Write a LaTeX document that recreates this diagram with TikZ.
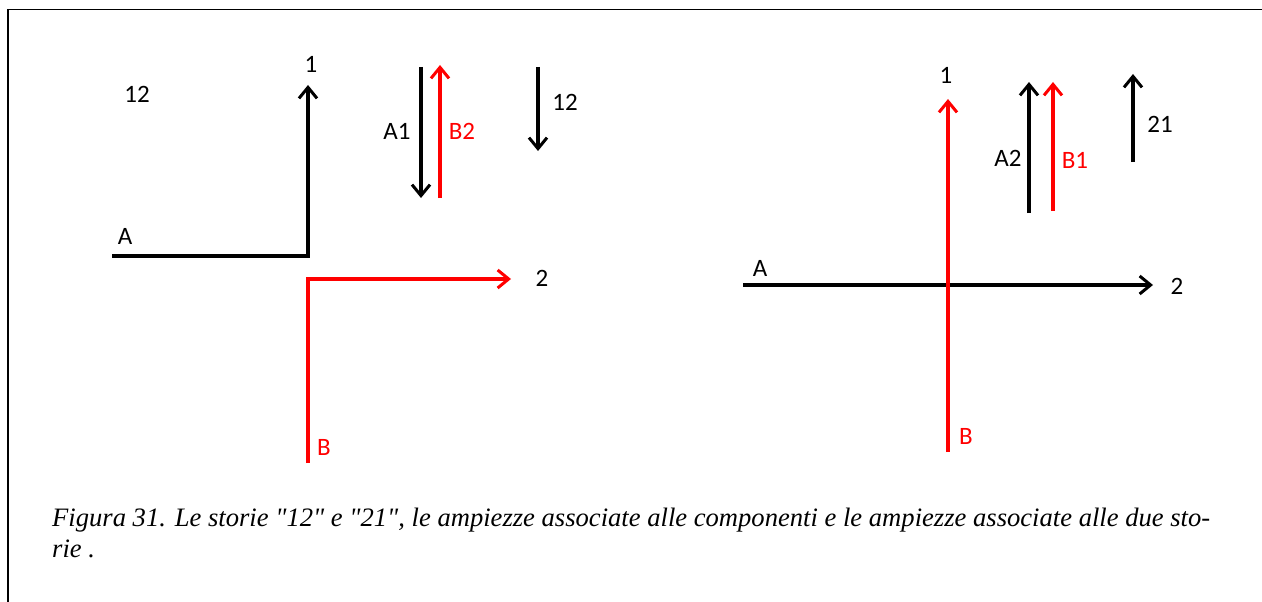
\documentclass[tikz,border=0pt]{standalone}
\usepackage{fontspec}
\setmainfont{Carlito}
\newfontfamily\capfont{Liberation Serif}
\usetikzlibrary{arrows.meta}
\definecolor{vred}{RGB}{255,0,0}
\tikzset{
  lab/.style={inner sep=0pt, font=\fontsize{25}{25}\selectfont},
  redlab/.style={lab, text=vred},
  ln/.style={line width=3.2pt, line cap=butt},
  arr/.style={ln, -{Straight Barb[length=11pt,width=18pt,line width=3pt]}},
  capline/.style={anchor=base west, inner sep=0pt, font=\capfont\itshape\fontsize{26.6}{31}\selectfont}
}
\begin{document}
\begin{tikzpicture}[x=1pt,y=-1pt]
\useasboundingbox (0,0) rectangle (1262,602);
\fill[white] (0,0) rectangle (1262,602);
% frame
\draw[line width=1.8pt] (8,602) -- (8,9.5) -- (1262,9.5);

% ---------- left diagram ----------
\coordinate (aL0) at (112,256);
\coordinate (aL1) at (308,256);
\coordinate (aL2) at (308,85);
\draw[ln, arr, line join=miter] (aL0) -- (aL1) -- (aL2);
\coordinate (bL0) at (308,463);
\coordinate (bL1) at (308,279);
\coordinate (bL2) at (511,279);
\draw[ln, arr, vred, line join=miter] (bL0) -- (bL1) -- (bL2);

\node[lab] (t12a) at (137,94) {12};
\node[lab] (one1) at (311,64) {1};
\node[lab] (Aleft) at (125,236) {A};
\node[lab] (two1) at (542,278) {2};
\node[redlab] (Bleft) at (324,447) {B};

\coordinate (a1s) at (421,67);
\coordinate (a1e) at (421,198);
\draw[arr] (a1s) -- (a1e);
\node[lab] (A1) at (397,131) {A1};
\coordinate (b2s) at (440,198);
\coordinate (b2e) at (440,65);
\draw[arr, vred] (b2s) -- (b2e);
\node[redlab] (B2) at (462,131) {B2};
\coordinate (s12s) at (538,67);
\coordinate (s12e) at (538,151);
\draw[arr] (s12s) -- (s12e);
\node[lab] (t12b) at (565,102) {12};

% ---------- right diagram ----------
\coordinate (bR0) at (948,452);
\coordinate (bR1) at (948,99);
\coordinate (aR0) at (743,285);
\coordinate (aR1) at (1153,285);
\draw[arr] (aR0) -- (aR1);
\draw[arr, vred] (bR0) -- (bR1);
\node[lab] (one2) at (946,75) {1};
\node[lab] (two2) at (1177,286) {2};
\node[lab] (Aright) at (760,268) {A};
\node[redlab] (Bright) at (966,436) {B};

\coordinate (a2s) at (1029,213);
\coordinate (a2e) at (1029,82);
\draw[arr] (a2s) -- (a2e);
\node[lab] (A2) at (1008,158) {A2};
\coordinate (b1s) at (1053,211);
\coordinate (b1e) at (1053,82);
\draw[arr, vred] (b1s) -- (b1e);
\node[redlab] (B1) at (1075,160) {B1};
\coordinate (s21s) at (1133,162);
\coordinate (s21e) at (1133,74);
\draw[arr] (s21s) -- (s21e);
\node[lab] (t21) at (1160,124) {21};

% ---------- caption ----------
\node[capline] (cap1) at (52,526) {Figura 31. Le storie "12" e "21", le ampiezze associate alle componenti e le ampiezze associate alle due sto-};
\node[capline] (cap2) at (52,557) {rie .};
\end{tikzpicture}
\end{document}
